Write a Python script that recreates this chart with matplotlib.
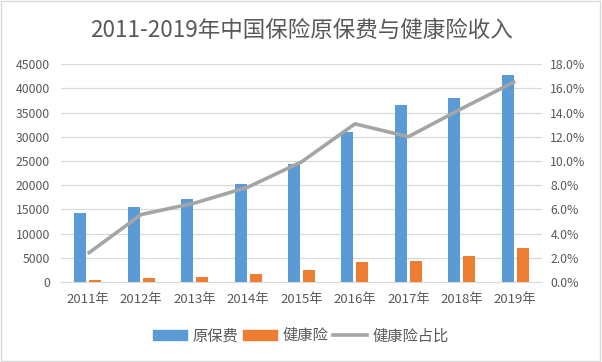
import matplotlib
matplotlib.use("Agg")
import matplotlib.pyplot as plt
import numpy as np
from matplotlib.ticker import FuncFormatter, MultipleLocator
from matplotlib.lines import Line2D
from matplotlib.patches import Patch, Rectangle

plt.rcParams['font.family'] = ['Noto Sans CJK SC', 'DejaVu Sans']

years = ["2011年", "2012年", "2013年", "2014年", "2015年", "2016年", "2017年", "2018年", "2019年"]
premium = [14339, 15488, 17222, 20235, 24283, 30959, 36581, 38017, 42645]
health = [336, 863, 1123, 1587, 2410, 4042, 4389, 5448, 7066]
ratio = [2.34, 5.57, 6.52, 7.84, 9.92, 13.06, 12.0, 14.33, 16.57]

title = "2011-2019年中国保险原保费与健康险收入"
labels = ["原保费", "健康险", "健康险占比"]

c_blue = "#5b9bd5"
c_orange = "#ed7d31"
c_gray = "#a5a5a5"
txt = "#595959"

fig = plt.figure(figsize=(6.02, 3.62), dpi=100)
fig.patches.append(Rectangle((0.002, 0.003), 0.995, 0.994, transform=fig.transFigure,
                             fill=False, edgecolor="#d9d9d9", linewidth=1))
ax = fig.add_axes([0.1013, 0.221, 0.799, 0.602])
ax2 = ax.twinx()

x = np.arange(len(years))
w = 0.225
off = 0.14
ax.bar(x - off, premium, w, color=c_blue, zorder=3)
ax.bar(x + off, health, w, color=c_orange, zorder=3)
ax2.plot(x, ratio, color=c_gray, linewidth=2.6, zorder=4, solid_capstyle='butt')

ax.set_xlim(-0.5, len(years) - 0.5)
ax.set_ylim(0, 45000)
ax.yaxis.set_major_locator(MultipleLocator(5000))
ax2.set_ylim(0, 18)
ax2.yaxis.set_major_locator(MultipleLocator(2))
ax2.yaxis.set_major_formatter(FuncFormatter(lambda v, p: f"{v:.1f}%"))

ax.grid(axis='y', color="#d9d9d9", linewidth=0.9, zorder=0)
ax.set_axisbelow(True)
for a in (ax, ax2):
    for s in a.spines.values():
        s.set_visible(False)
    a.tick_params(length=0, labelsize=8.8, colors=txt)
ax.spines['bottom'].set_visible(True)
ax.spines['bottom'].set_color("#d9d9d9")
ax.set_xticks(x)
ax.set_xticklabels(years)
ax.tick_params(axis='x', pad=8, labelsize=9.5)
ax.tick_params(axis='y', pad=8)
ax2.tick_params(axis='y', pad=6)
ax2.set_zorder(ax.get_zorder() + 1)
ax2.patch.set_visible(False)

fig.text(0.5, 0.917, title, ha='center', va='center', fontsize=16.2, color=txt)

handles = [Patch(color=c_blue), Patch(color=c_orange),
           Line2D([0], [0], color=c_gray, linewidth=2.6)]
fig.legend(handles, labels, loc='center', bbox_to_anchor=(0.5, 0.072), ncol=3,
           frameon=False, fontsize=11, labelcolor=txt, handlelength=2.2,
           handleheight=0.6, columnspacing=0.3, handletextpad=0.4)

fig.savefig("out.png", dpi=100)
